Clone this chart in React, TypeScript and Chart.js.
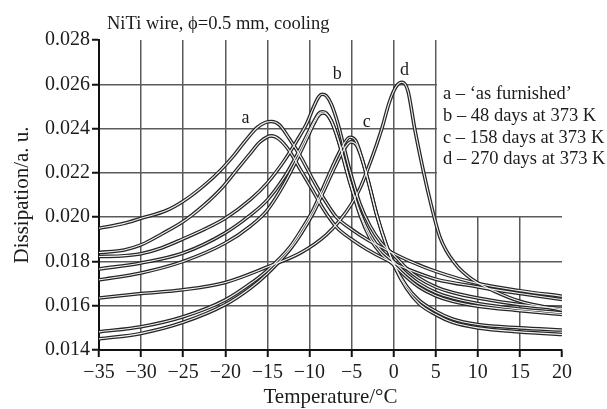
import React, { useEffect, useRef } from "react";
import { Chart, registerables } from "chart.js";

Chart.register(...registerables);

const xTicks = [-35, -30, -25, -20, -15, -10, -5, 0, 5, 10, 15, 20];
const yTicks = [0.014, 0.016, 0.018, 0.02, 0.022, 0.024, 0.026, 0.028];

const chartTitle = "NiTi wire, \u03D5=0.5 mm, cooling";
const xTitle = "Temperature/\u00B0C";
const yTitle = "Dissipation/a. u.";
const legendLines = [
  "a \u2013 \u2018as furnished\u2019",
  "b \u2013 48 days at 373 K",
  "c \u2013 158 days at 373 K",
  "d \u2013 270 days at 373 K",
];
const peakLetters = ["a", "b", "c", "d"];
const peakLetterAt: [number, number][] = [
  [-17.6, 0.02448],
  [-6.7, 0.02647],
  [-3.2, 0.0243],
  [1.3, 0.02665],
];

// a – as furnished (two runs)
const curveA1: [number, number][] = [
  [-35, 0.0195], [-32, 0.01972], [-30, 0.01995], [-27, 0.0203], [-25, 0.02072],
  [-23, 0.02128], [-21, 0.02195], [-19, 0.02278], [-17.5, 0.0235], [-16.2, 0.02405],
  [-15.2, 0.02428], [-14.5, 0.02432], [-13.6, 0.02418], [-12.4, 0.02355], [-11, 0.0227],
  [-9.6, 0.0217], [-8.4, 0.0209], [-6.8, 0.02], [-5, 0.01945], [-3.2, 0.019],
  [-1, 0.01855], [2, 0.018], [5, 0.01755], [10, 0.017], [15, 0.01668], [20, 0.01643],
];
const curveA2: [number, number][] = [
  [-35, 0.0184], [-32, 0.01852], [-30, 0.01875], [-27.5, 0.01925], [-25, 0.0198],
  [-22.5, 0.02055], [-20.3, 0.02136], [-18.5, 0.0222], [-17.1, 0.02285], [-15.8, 0.02342],
  [-14.5, 0.02367], [-13.6, 0.02352], [-12.4, 0.023], [-11, 0.0221], [-9.6, 0.0212],
  [-8.4, 0.0204], [-6.8, 0.01955], [-5, 0.019], [-3.2, 0.01855], [-1, 0.0181],
  [2, 0.0176], [5, 0.0172], [10, 0.01685], [15, 0.01655], [20, 0.01628],
];
// b – 48 days
const curveB1: [number, number][] = [
  [-35, 0.01822], [-32, 0.01826], [-30, 0.01835], [-27.5, 0.01862], [-25, 0.01902],
  [-22.5, 0.01945], [-20, 0.01995], [-17, 0.0208], [-15, 0.02155], [-13, 0.02255],
  [-11.5, 0.02345], [-10.3, 0.02425], [-9.5, 0.02498], [-8.9, 0.02543], [-8.5, 0.02555],
  [-8, 0.02548], [-7.4, 0.0251], [-6.6, 0.0242], [-5.3, 0.02225], [-4, 0.0206],
  [-2.8, 0.0196], [-1.5, 0.01885], [0, 0.0183], [1.5, 0.0177], [3, 0.01725],
  [5, 0.01685], [7, 0.0166], [10, 0.01635], [15, 0.01605], [20, 0.01588],
];
const curveB2: [number, number][] = [
  [-35, 0.01766], [-30, 0.01793], [-25, 0.01838], [-20, 0.01929], [-17, 0.0201],
  [-15, 0.02078], [-13, 0.0218], [-11.5, 0.0228], [-10.3, 0.0237], [-9.5, 0.0243],
  [-8.9, 0.02468], [-8.5, 0.02476], [-8, 0.0247], [-7.4, 0.02435], [-6.6, 0.0235],
  [-5.3, 0.0217], [-4, 0.0202], [-2.8, 0.0192], [-1.5, 0.0185], [0, 0.018],
  [1.5, 0.01745], [3, 0.017], [5, 0.0166], [7, 0.01635], [10, 0.0161],
  [15, 0.01585], [20, 0.01568],
];
const curveB3: [number, number][] = [
  [-35, 0.01717], [-30, 0.01748], [-25, 0.018], [-20, 0.01883], [-17, 0.0196],
  [-15, 0.02032], [-13, 0.0215], [-11.5, 0.0226], [-10.3, 0.02355], [-9.5, 0.0242],
  [-8.9, 0.0246], [-8.4, 0.0247], [-7.9, 0.02463], [-7.3, 0.02425], [-6.5, 0.0234],
  [-5.2, 0.0216], [-4, 0.0201], [-2.8, 0.01905], [-1.5, 0.01835], [0, 0.01785],
  [1.5, 0.0173], [3, 0.01685], [5, 0.01645], [7, 0.0162], [10, 0.01598],
  [15, 0.01578], [20, 0.0156],
];
// c – 158 days
const curveC1: [number, number][] = [
  [-35, 0.01482], [-30, 0.01505], [-25, 0.0155], [-20, 0.01626], [-17, 0.017],
  [-15, 0.0176], [-12.3, 0.01866], [-11, 0.0194], [-9.6, 0.0203], [-8.4, 0.0213],
  [-7, 0.0225], [-6, 0.02325], [-5.2, 0.02361], [-4.5, 0.02345], [-3.8, 0.0227],
  [-3, 0.0216], [-2, 0.0201], [-1, 0.0189], [0, 0.0179], [1.5, 0.0169],
  [3, 0.01625], [5, 0.01575], [7, 0.0154], [10, 0.01515], [15, 0.015], [20, 0.0149],
];
const curveC2: [number, number][] = [
  [-35, 0.0145], [-30, 0.01475], [-25, 0.01525], [-20, 0.01605], [-17, 0.0168],
  [-15, 0.01745], [-12.3, 0.01855], [-11, 0.01925], [-9.6, 0.02015], [-8.4, 0.0211],
  [-7, 0.02225], [-6, 0.023], [-5.1, 0.0234], [-4.4, 0.02325], [-3.7, 0.02255],
  [-2.9, 0.02145], [-1.9, 0.01995], [-0.9, 0.01875], [0.2, 0.0177], [1.5, 0.0168],
  [3, 0.0161], [5, 0.0156], [7, 0.01525], [10, 0.015], [15, 0.01482], [20, 0.0147],
];
// d – 270 days
const curveD: [number, number][] = [
  [-35, 0.01635], [-30, 0.01655], [-25, 0.01672], [-20, 0.01705], [-15, 0.01775],
  [-11, 0.0184], [-8, 0.0192], [-6.4, 0.01985], [-5, 0.0206], [-4, 0.0213],
  [-3, 0.02225], [-2, 0.0233], [-1.4, 0.024], [-0.5, 0.0252], [0.3, 0.0259],
  [1, 0.02609], [1.7, 0.0257], [2.5, 0.024], [3.3, 0.0225], [4.3, 0.0208],
  [5.5, 0.0191], [7.3, 0.0179], [9.4, 0.01717], [12, 0.01665], [15, 0.0162], [20, 0.0158],
];

const curves = [curveA1, curveA2, curveB1, curveB2, curveB3, curveC1, curveC2, curveD];

const FONT = '"Liberation Serif", "Times New Roman", serif';
const TEXT = "#1c1c1c";

const decorPlugin = {
  id: "decor",
  beforeDatasetsDraw(chart: any) {
    const { ctx, scales, chartArea } = chart;
    const x0 = scales.x.getPixelForValue(5) + 1.2;
    const y1 = scales.y.getPixelForValue(0.02) - 1.2;
    ctx.save();
    ctx.fillStyle = "#ffffff";
    ctx.fillRect(x0, chartArea.top - 2, chartArea.right - x0 + 4, y1 - chartArea.top + 2);
    ctx.restore();
  },
  afterDraw(chart: any) {
    const { ctx, scales } = chart;
    ctx.save();
    ctx.fillStyle = TEXT;
    ctx.textAlign = "left";
    ctx.textBaseline = "alphabetic";
    ctx.font = `18.5px ${FONT}`;
    ctx.fillText(chartTitle, 107, 29);
    ctx.font = `18.5px ${FONT}`;
    legendLines.forEach((t, i) => {
      ctx.fillText(t, 443, 99 + i * 21.8);
    });
    ctx.textAlign = "center";
    ctx.textBaseline = "middle";
    ctx.font = `18px ${FONT}`;
    peakLetters.forEach((t, i) => {
      const [tx, ty] = peakLetterAt[i];
      ctx.fillText(t, scales.x.getPixelForValue(tx), scales.y.getPixelForValue(ty));
    });
    ctx.restore();
  },
};

export default function App() {
  const ref = useRef<HTMLCanvasElement | null>(null);
  useEffect(() => {
    if (!ref.current) return;
    const datasets: any[] = [];
    curves.forEach((c, i) => {
      const data = c.map(([x, y]) => ({ x, y }));
      datasets.push({
        label: "outer" + i,
        data,
        borderColor: "#262626",
        borderWidth: 3.6,
        pointRadius: 0,
        cubicInterpolationMode: "monotone",
        fill: false,
        order: 1,
      });
      datasets.push({
        label: "inner" + i,
        data,
        borderColor: "#f2f2f2",
        borderWidth: 1.1,
        pointRadius: 0,
        cubicInterpolationMode: "monotone",
        fill: false,
        order: 0,
      });
    });
    const chart = new Chart(ref.current, {
      type: "line",
      data: { datasets },
      options: {
        animation: false,
        responsive: false,
        events: [],
        layout: { padding: { top: 40, right: 45, left: 0, bottom: 0 } },
        plugins: { legend: { display: false }, tooltip: { enabled: false }, title: { display: false } },
        scales: {
          x: {
            type: "linear",
            min: -35,
            max: 20,
            afterBuildTicks: (s: any) => {
              s.ticks = xTicks.map((v) => ({ value: v }));
            },
            afterFit: (s: any) => {
              s.height = 59;
            },
            ticks: {
              autoSkip: false,
              maxRotation: 0,
              padding: 4,
              color: TEXT,
              font: { family: FONT, size: 20 },
              callback: (v: any) => String(v).replace("-", "\u2212"),
            },
            grid: {
              color: (ctx: any) =>
                ctx.tick && (ctx.tick.value === 20 || ctx.tick.value === -35) ? "rgba(0,0,0,0)" : "#5a5a5a",
              lineWidth: 1.5,
              tickLength: 7,
              tickColor: "#111",
              tickWidth: 2,
            },
            border: { color: "#111", width: 2 },
            title: {
              display: true,
              text: xTitle,
              color: TEXT,
              font: { family: FONT, size: 21 },
              padding: { top: 0, bottom: -1 },
            },
          },
          y: {
            type: "linear",
            min: 0.014,
            max: 0.028,
            afterBuildTicks: (s: any) => {
              s.ticks = yTicks.map((v) => ({ value: v }));
            },
            afterFit: (s: any) => {
              s.width = 99;
            },
            ticks: {
              padding: 2,
              color: TEXT,
              font: { family: FONT, size: 20 },
              callback: (v: any) => Number(v).toFixed(3),
            },
            grid: {
              color: (ctx: any) =>
                ctx.tick && (Math.abs(ctx.tick.value - 0.028) < 1e-9 || Math.abs(ctx.tick.value - 0.014) < 1e-9)
                  ? "rgba(0,0,0,0)"
                  : "#5a5a5a",
              lineWidth: 1.5,
              tickLength: 7,
              tickColor: "#111",
              tickWidth: 2,
            },
            border: { color: "#111", width: 2 },
            title: {
              display: true,
              text: yTitle,
              color: TEXT,
              font: { family: FONT, size: 21 },
              padding: { top: 10, bottom: 0 },
            },
          },
        },
      },
      plugins: [decorPlugin],
    } as any);
    return () => chart.destroy();
  }, []);
  return (
    <div style={{ position: "absolute", left: 0, top: 0, width: 607, height: 409, background: "#fff" }}>
      <canvas ref={ref} width={607} height={409} style={{ display: "block" }} />
    </div>
  );
}
